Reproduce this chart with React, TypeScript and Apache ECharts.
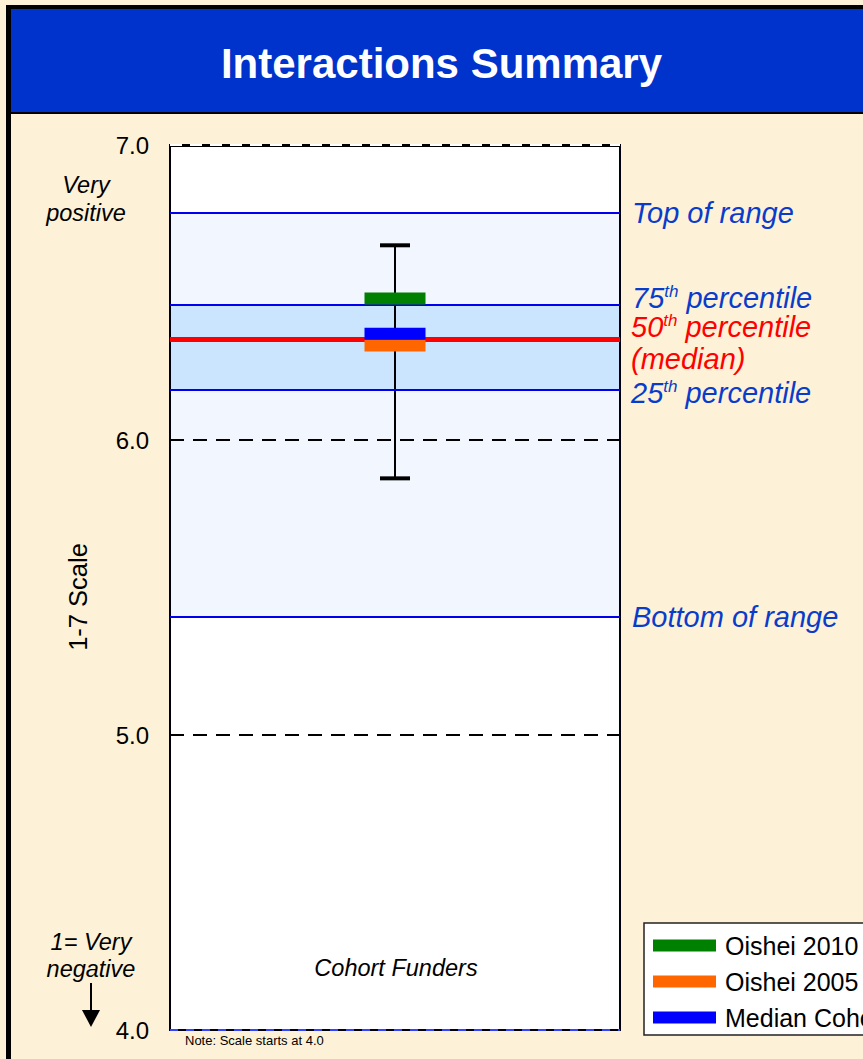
import React, { useEffect, useRef } from "react";
import * as echarts from "echarts";

// ---- data ----
const categories = ["Cohort Funders"];
const seriesNames = ["Oishei 2010", "Oishei 2005", "Median Cohort"];
const seriesValues = [6.48, 6.32, 6.36];
const seriesColors = ["#008000", "#FF6600", "#0000FF"];
const whiskerLow = 5.87;
const whiskerHigh = 6.66;
const rangeTop = 6.77;
const rangeBottom = 5.4;
const pct75 = 6.46;
const pct50 = 6.34;
const pct25 = 6.17;
const yMin = 4;
const yMax = 7;
const yInterval = 1;
const dashedTicks = [6, 5];

const FONT = '"Liberation Sans", Arial, Helvetica, sans-serif';
const GRID = { left: 170, top: 145, width: 450, height: 885 };
const TEXT_BLUE = "#0A3CCB";
const LINE_BLUE = "#0000EE";

export default function App() {
  const ref = useRef<HTMLDivElement>(null);

  useEffect(() => {
    if (!ref.current) return;
    const chart = echarts.init(ref.current, undefined, { renderer: "svg" });

    const cat = categories[0];

    const txt = (text: string, x: number, y: number, extra: any = {}) => ({
      type: "text",
      z: 20,
      style: {
        text,
        x,
        y,
        fontFamily: FONT,
        fontSize: 23,
        fill: "#000",
        align: "left",
        verticalAlign: "middle",
        ...extra,
      },
    });

    const supRich = (color: string) => ({
      n: { fontFamily: FONT, fontSize: 29, fontStyle: "italic", fill: color, color, lineHeight: 30 },
      s: { fontFamily: FONT, fontSize: 17, fontStyle: "italic", fill: color, color, verticalAlign: "top", lineHeight: 30 },
    });

    const option: any = {
      animation: false,
      backgroundColor: "#FDF2D7",
      grid: {
        ...GRID,
        show: true,
        backgroundColor: "#FFFFFF",
        borderWidth: 0,
      },
      xAxis: {
        type: "category",
        data: categories,
        axisLine: { show: false },
        axisTick: { show: false },
        axisLabel: { show: false },
        splitLine: { show: false },
      },
      yAxis: {
        type: "value",
        min: yMin,
        max: yMax,
        interval: yInterval,
        axisLine: { show: false },
        axisTick: { show: false },
        splitLine: { show: false },
        axisLabel: {
          formatter: (v: number) => v.toFixed(1),
          fontSize: 24,
          fontFamily: FONT,
          color: "#000",
          margin: 21,
        },
      },
      legend: {
        orient: "vertical",
        left: 644,
        top: 923,
        data: seriesNames,
        icon: "rect",
        itemWidth: 63,
        itemHeight: 12,
        itemGap: 11,
        padding: [10, 40, 5, 9],
        backgroundColor: "#FFFFFF",
        borderColor: "#222",
        borderWidth: 1.5,
        selectedMode: false,
        itemStyle: { opacity: 1 },
        textStyle: { fontSize: 25, fontFamily: FONT, color: "#000", padding: [0, 0, 0, 4] },
      },
      series: [
        {
          name: "reference",
          type: "line",
          z: 1,
          data: [[cat, pct50]],
          symbol: "none",
          showSymbol: false,
          silent: true,
          lineStyle: { opacity: 0 },
          markArea: {
            silent: true,
            data: [
              [{ yAxis: rangeBottom, itemStyle: { color: "#F2F7FF" } }, { yAxis: rangeTop }],
              [{ yAxis: pct25, itemStyle: { color: "#CCE5FF" } }, { yAxis: pct75 }],
            ],
          },
          markLine: {
            silent: true,
            symbol: ["none", "none"],
            label: { show: false },
            data: [
              ...dashedTicks.map((v) => ({ yAxis: v, lineStyle: { color: "#000", width: 2, type: [14, 9] } })),
              { yAxis: rangeTop, lineStyle: { color: LINE_BLUE, width: 2, type: "solid" } },
              { yAxis: pct75, lineStyle: { color: LINE_BLUE, width: 2, type: "solid" } },
              { yAxis: pct25, lineStyle: { color: LINE_BLUE, width: 2, type: "solid" } },
              { yAxis: rangeBottom, lineStyle: { color: LINE_BLUE, width: 2, type: "solid" } },
              { yAxis: pct50, lineStyle: { color: "#FF0000", width: 5, type: "solid" } },
            ],
          },
        },
        {
          name: "whisker",
          type: "custom",
          z: 3,
          silent: true,
          data: [[0, whiskerLow, whiskerHigh]],
          encode: { x: 0, y: [1, 2] },
          renderItem: (params: any, api: any) => {
            const lo = api.coord([api.value(0), api.value(1)]);
            const hi = api.coord([api.value(0), api.value(2)]);
            const hw = 15;
            return {
              type: "group",
              children: [
                { type: "line", shape: { x1: lo[0], y1: lo[1], x2: hi[0], y2: hi[1] }, style: { stroke: "#000", lineWidth: 2 } },
                { type: "line", shape: { x1: hi[0] - hw, y1: hi[1], x2: hi[0] + hw, y2: hi[1] }, style: { stroke: "#000", lineWidth: 4 } },
                { type: "line", shape: { x1: lo[0] - hw, y1: lo[1], x2: lo[0] + hw, y2: lo[1] }, style: { stroke: "#000", lineWidth: 4 } },
              ],
            };
          },
        },
        ...seriesNames.map((name, i) => ({
          name,
          type: "scatter",
          z: 5,
          silent: true,
          symbol: "rect",
          symbolSize: [61, 12],
          itemStyle: { color: seriesColors[i], opacity: 1 },
          data: [[cat, seriesValues[i]]],
          ...(i === 0
            ? {
                markLine: {
                  silent: true,
                  symbol: ["none", "none"],
                  label: { show: false },
                  data: [
                    { yAxis: yMax, lineStyle: { color: "#FFFFFF", width: 2, type: [12, 8] } },
                    { yAxis: yMin, lineStyle: { color: "#3344FF", width: 2, type: [8, 8] } },
                  ],
                },
              }
            : {}),
        })),
      ],
      graphic: [
        // frame and header
        { type: "rect", z: 0, shape: { x: 11, y: 9, width: 852, height: 103 }, style: { fill: "#0033CC" } },
        { type: "rect", z: 0, shape: { x: 6, y: 112, width: 857, height: 2 }, style: { fill: "#000" } },
        { type: "rect", z: 0, shape: { x: 6, y: 5, width: 857, height: 4 }, style: { fill: "#000" } },
        { type: "rect", z: 0, shape: { x: 6, y: 5, width: 5, height: 1054 }, style: { fill: "#000" } },
        txt("Interactions Summary", 441.5, 63, { fontSize: 42, fontWeight: "bold", fill: "#FFFFFF", align: "center" }),
        // plot border
        {
          type: "rect",
          z: 4,
          silent: true,
          shape: { x: GRID.left, y: GRID.top, width: GRID.width, height: GRID.height },
          style: { fill: "none", stroke: "#000010", lineWidth: 2 },
        },
        {
          type: "rect",
          z: 4,
          silent: true,
          shape: { x: GRID.left, y: GRID.top - 1, width: GRID.width, height: 3 },
          style: { fill: "#000" },
        },
        // left annotations
        txt("Very\npositive", 86, 199, { fontStyle: "italic", fontSize: 23.5, align: "center", lineHeight: 28 }),
        txt("1= Very\nnegative", 91, 955, { fontStyle: "italic", fontSize: 23.5, align: "center", lineHeight: 27 }),
        { type: "line", z: 20, shape: { x1: 91, y1: 983, x2: 91, y2: 1012 }, style: { stroke: "#000", lineWidth: 2 } },
        { type: "polygon", z: 20, shape: { points: [[82, 1010], [100, 1010], [91, 1027]] }, style: { fill: "#000" } },
        {
          type: "text",
          z: 20,
          x: 78,
          y: 597,
          rotation: Math.PI / 2,
          style: { text: "1-7 Scale", fontFamily: FONT, fontSize: 25.5, fill: "#000", align: "center", verticalAlign: "middle" },
        },
        txt(categories[0], 396, 968, { fontStyle: "italic", align: "center", fontSize: 23.5 }),
        txt("Note: Scale starts at 4.0", 185, 1040, { fontSize: 13 }),
        // right annotations
        txt("Top of range", 632, 213, { fontStyle: "italic", fontSize: 29, fill: TEXT_BLUE }),
        txt("{n|75}{s|th}{n| percentile}", 632, 298, { rich: supRich(TEXT_BLUE), fill: TEXT_BLUE }),
        txt("{n|50}{s|th}{n| percentile}", 631, 327, { rich: supRich("#FF0000"), fill: "#FF0000" }),
        txt("(median)", 631, 359, { fontStyle: "italic", fontSize: 29, fill: "#FF0000" }),
        txt("{n|25}{s|th}{n| percentile}", 631, 393, { rich: supRich(TEXT_BLUE), fill: TEXT_BLUE }),
        txt("Bottom of range", 632, 617, { fontStyle: "italic", fontSize: 29, fill: TEXT_BLUE }),
      ],
    };

    chart.setOption(option);
    return () => chart.dispose();
  }, []);

  return (
    <div
      ref={ref}
      style={{ position: "fixed", left: 0, top: 0, width: 863, height: 1059 }}
    />
  );
}
